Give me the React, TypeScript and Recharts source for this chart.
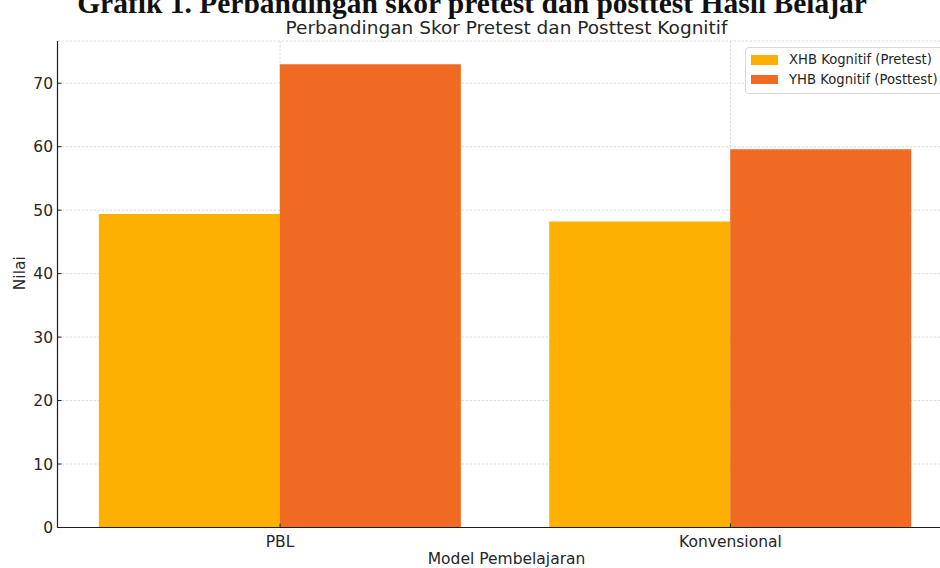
import React from 'react';
import { BarChart, Bar, XAxis, YAxis, CartesianGrid, Legend } from 'recharts';

// Learning models compared on the x axis
const models = ['PBL', 'Konvensional'];
// Mean cognitive scores per model
const pretestScores = [49.4, 48.2];
const posttestScores = [73.0, 59.6];
// Value axis ticks
const yTicks = [0, 10, 20, 30, 40, 50, 60, 70];

const seriesNames = ['XHB Kognitif (Pretest)', 'YHB Kognitif (Posttest)'];
const seriesColors = ['#FDAF02', '#F16A22'];

const titleText = 'Grafik 1. Perbandingan skor pretest dan posttest Hasil Belajar';
const subtitleText = 'Perbandingan Skor Pretest dan Posttest Kognitif';
const xAxisTitle = 'Model Pembelajaran';
const yAxisTitle = 'Nilai';

const data = models.map((model, i) => ({
  model,
  pretest: pretestScores[i],
  posttest: posttestScores[i],
}));

const yMax = Math.max(...pretestScores, ...posttestScores) * 1.05;

const FONT = 'DejaVu Sans';
const TEXT = '#262626';
const AXIS = '#1f1f1f';

const renderLegend = (props: any) => {
  const { payload } = props;
  return (
    <div
      style={{
        border: '1px solid #d8d8d8',
        borderRadius: 4,
        background: 'rgba(255,255,255,0.9)',
        padding: '2px 14px 4px 5px',
        fontFamily: FONT,
        fontSize: 13.2,
        color: TEXT,
        whiteSpace: 'nowrap',
      }}
    >
      {payload.map((entry: any) => (
        <div key={entry.value} style={{ display: 'flex', alignItems: 'center', height: 19.5 }}>
          <span
            style={{
              display: 'inline-block',
              width: 27,
              height: 9.5,
              background: entry.color,
              marginRight: 11,
            }}
          />
          <span>{entry.value}</span>
        </div>
      ))}
    </div>
  );
};

const renderYLabel = (props: any) => {
  const vb = props.viewBox;
  const cx = vb.x + 20;
  const cy = vb.y + vb.height / 2 - 11;
  return (
    <text
      x={cx}
      y={cy}
      transform={`rotate(-90, ${cx}, ${cy})`}
      textAnchor="middle"
      dominantBaseline="central"
      fontFamily={FONT}
      fontSize={15.5}
      fill={TEXT}
    >
      {yAxisTitle}
    </text>
  );
};

export default function App() {
  return (
    <div
      style={{
        position: 'fixed',
        left: 0,
        top: 0,
        width: 940,
        height: 568,
        overflow: 'hidden',
        background: '#ffffff',
      }}
    >
      <BarChart
        width={1000}
        height={568}
        data={data}
        margin={{ top: 41, right: 44.4, bottom: 0, left: 0 }}
        barCategoryGap={44}
        barGap={0}
      >
        <CartesianGrid stroke="#d2d2d2" strokeDasharray="2.5 1.5" strokeWidth={0.8} />
        <XAxis
          dataKey="model"
          height={40.5}
          padding={{ left: -2.65, right: 0 }}
          axisLine={{ stroke: AXIS, strokeWidth: 1.2 }}
          tickLine={{ stroke: AXIS, strokeWidth: 1 }}
          tickSize={-4}
          tickMargin={12}
          tick={{ fill: TEXT, fontSize: 15.5, fontFamily: FONT }}
          label={{
            value: xAxisTitle,
            position: 'insideBottom',
            offset: 4,
            fill: TEXT,
            fontSize: 15.5,
            fontFamily: FONT,
          }}
        />
        <YAxis
          type="number"
          width={57.5}
          domain={[0, yMax]}
          ticks={yTicks}
          allowDataOverflow
          axisLine={{ stroke: AXIS, strokeWidth: 1.2 }}
          tickLine={{ stroke: AXIS, strokeWidth: 1 }}
          tickSize={-4}
          tickMargin={8.5}
          tick={{ fill: TEXT, fontSize: 15.5, fontFamily: FONT }}
          label={{ content: renderYLabel }}
        />
        <Legend
          layout="vertical"
          align="center"
          verticalAlign="middle"
          wrapperStyle={{ top: 47, left: 745, width: 'auto', height: 'auto' }}
          content={renderLegend}
        />
        <Bar dataKey="pretest" name={seriesNames[0]} fill={seriesColors[0]} isAnimationActive={false} />
        <Bar dataKey="posttest" name={seriesNames[1]} fill={seriesColors[1]} isAnimationActive={false} />
      </BarChart>
      <svg
        width={940}
        height={40}
        style={{ position: 'absolute', left: 0, top: 0, pointerEvents: 'none' }}
      >
        <text
          x={472}
          y={13}
          textAnchor="middle"
          fontFamily="Liberation Serif"
          fontWeight="bold"
          fontSize={29.5}
          fill="#111111"
        >
          {titleText}
        </text>
        <text
          x={506.5}
          y={33.5}
          textAnchor="middle"
          fontFamily={FONT}
          fontSize={18.5}
          fill={TEXT}
        >
          {subtitleText}
        </text>
      </svg>
    </div>
  );
}
